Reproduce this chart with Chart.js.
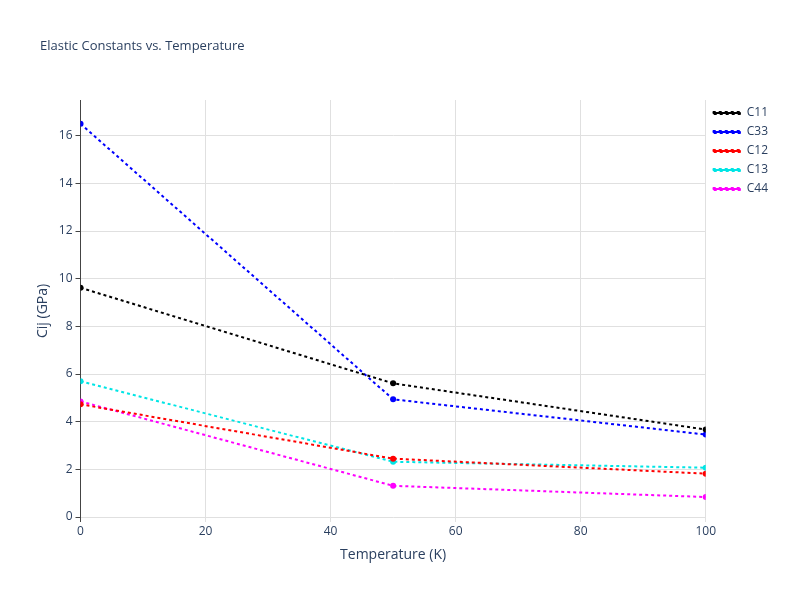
<!DOCTYPE html>
<html>
<head>
<script src="https://cdn.jsdelivr.net/npm/chart.js@4"></script>
<style>
  body { margin: 0; background: #fff; }
  #wrap { width: 800px; height: 600px; }
</style>
</head>
<body>
<div id="wrap"><canvas id="elastic-chart"></canvas></div>
<script>
var temperatures = [0, 50, 100];
var seriesNames = ['C11', 'C33', 'C12', 'C13', 'C44'];
var seriesColors = ['#000000', '#0000ff', '#ff0000', '#00e5e5', '#ff00ff'];
var c11 = [9.62, 5.61, 3.67];
var c33 = [16.5, 4.94, 3.46];
var c12 = [4.73, 2.45, 1.82];
var c13 = [5.70, 2.32, 2.07];
var c44 = [4.85, 1.31, 0.84];
var yTicks = [0, 2, 4, 6, 8, 10, 12, 14, 16];

var allSeries = [c11, c33, c12, c13, c44];

var titlePlugin = {
    id: 'leftTitle',
    afterDraw: function (chart) {
        var ctx = chart.ctx;
        ctx.save();
        ctx.font = '13px "Open Sans", sans-serif';
        ctx.fillStyle = '#2a3f5f';
        ctx.textBaseline = 'middle';
        ctx.fillText('Elastic Constants vs. Temperature', 40, 46);
        ctx.restore();
    }
};

var ctx = document.getElementById('elastic-chart').getContext('2d');
new Chart(ctx, {
    type: 'line',
    data: {
        datasets: allSeries.map(function (vals, i) {
            return {
                label: seriesNames[i],
                data: temperatures.map(function (t, j) { return { x: t, y: vals[j] }; }),
                borderColor: seriesColors[i],
                backgroundColor: seriesColors[i],
                borderWidth: 2,
                borderDash: [3, 3],
                pointRadius: 3,
                pointBorderWidth: 0,
                pointHoverRadius: 3,
                tension: 0
            };
        })
    },
    options: {
        responsive: true,
        maintainAspectRatio: false,
        animation: false,
        layout: { padding: { top: 100, left: 31, right: 22, bottom: 33 } },
        plugins: {
            title: { display: false },
            tooltip: { enabled: false },
            legend: {
                position: 'right',
                align: 'start',
                labels: {
                    font: { family: '"Open Sans", sans-serif', size: 12 },
                    color: '#2a3f5f',
                    boxWidth: 28,
                    boxHeight: 2,
                    padding: 7
                }
            }
        },
        scales: {
            x: {
                type: 'linear',
                min: 0,
                max: 100,
                ticks: { stepSize: 20, color: '#2a3f5f', font: { family: '"Open Sans", sans-serif', size: 12 } },
                grid: { color: '#e0e0e0', drawTicks: false },
                border: { display: false },
                title: { display: true, text: 'Temperature (K)', color: '#2a3f5f', font: { family: '"Open Sans", sans-serif', size: 14 } }
            },
            y: {
                min: -0.2,
                max: 17.5,
                afterBuildTicks: function (scale) {
                    scale.ticks = yTicks.map(function (v) { return { value: v }; });
                },
                ticks: { color: '#2a3f5f', font: { family: '"Open Sans", sans-serif', size: 12 } },
                grid: { color: '#e0e0e0', tickLength: 5, tickColor: '#444' },
                border: { display: true, color: '#444' },
                title: { display: true, text: 'Cij (GPa)', color: '#2a3f5f', font: { family: '"Open Sans", sans-serif', size: 14 } }
            }
        }
    },
    plugins: [titlePlugin]
});
</script>
</body>
</html>
